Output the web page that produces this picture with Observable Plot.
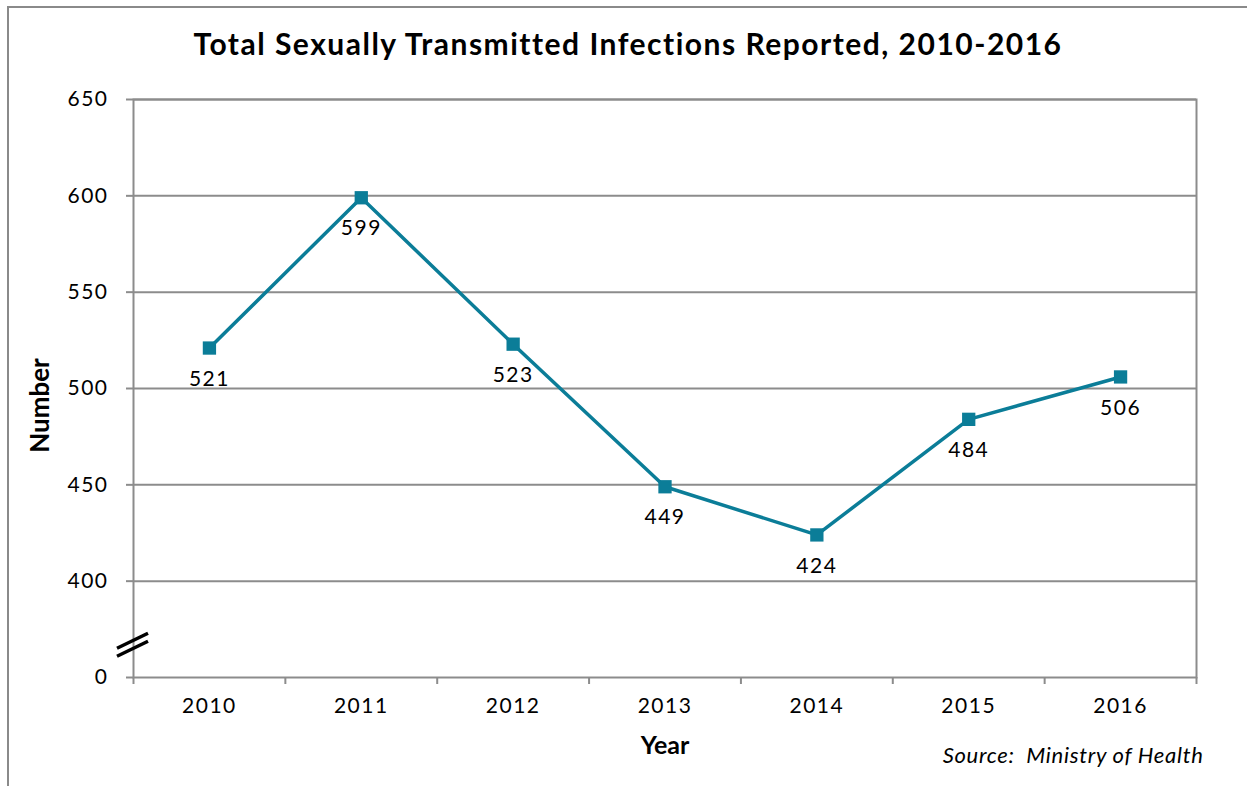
<!DOCTYPE html>
<html>
<head>
<meta charset="utf-8">
<script src="https://cdn.jsdelivr.net/npm/d3@7"></script>
<script src="https://cdn.jsdelivr.net/npm/@observablehq/plot@0.6"></script>
<style>
  html, body { margin: 0; padding: 0; background: #fff; }
  #wrap { position: relative; width: 1247px; height: 786px; overflow: hidden; }
  #border { position: absolute; left: 7px; top: 6px; right: -4px; bottom: -4px;
            border-top: 2px solid #8a8a8a; border-left: 2px solid #8a8a8a; pointer-events: none; }
  svg { font-family: Lato, "Open Sans", sans-serif; }
  .spaced text { letter-spacing: 1.5px; }
</style>
</head>
<body>
<div id="wrap"><div id="border"></div></div>
<script>
const years = [2010, 2011, 2012, 2013, 2014, 2015, 2016];
const values = [521, 599, 523, 449, 424, 484, 506];
const yTicks = [350, 400, 450, 500, 550, 600, 650]; // 350 position shown as "0" (broken axis)
const title = "Total Sexually Transmitted Infections Reported, 2010-2016";
const xTitle = "Year";
const yTitle = "Number";
const source = "Source:  Ministry of Health";

const data = years.map((y, i) => ({year: y, value: values[i]}));
const bounds = d3.range(years[0] - 0.5, years[years.length - 1] + 1, 1);
const lineColor = "#0b7d98";
const gridColor = "#8c8c8c";

const plot = Plot.plot({
  width: 1247,
  height: 786,
  marginLeft: 133,
  marginRight: 51,
  marginTop: 99,
  marginBottom: 109,
  style: {fontFamily: "Lato, 'Open Sans', sans-serif", background: "transparent"},
  x: {type: "linear", domain: [years[0] - 0.5, years[years.length - 1] + 0.5]},
  y: {domain: [350, 650]},
  marks: [
    Plot.ruleY(yTicks.filter(d => d > 350), {stroke: gridColor, strokeWidth: 2}),
    Plot.frame({stroke: gridColor, strokeWidth: 2}),
    Plot.axisY({ticks: yTicks, tickSize: 7, tickPadding: 18, tickFormat: d => d === 350 ? "0" : String(d),
      fontSize: 21, label: null, stroke: gridColor, strokeWidth: 2, color: "#000", className: "spaced"}),
    Plot.axisX({ticks: years, tickSize: 0, tickPadding: 21, tickFormat: d => String(d), fontSize: 21, label: null, color: "#000", className: "spaced"}),
    Plot.axisX({ticks: bounds, tickSize: 7, tickFormat: () => "", label: null, stroke: gridColor, strokeWidth: 2}),
    Plot.line(data, {x: "year", y: "value", stroke: lineColor, strokeWidth: 3.5}),
    Plot.dot(data, {x: "year", y: "value", symbol: "square", r: 7.5, fill: lineColor, stroke: "none"}),
    Plot.text(data, {x: "year", y: "value", text: d => String(d.value), dy: 31, fontSize: 21, fill: "#000", className: "spaced"}),
    Plot.text([title], {frameAnchor: "top", lineAnchor: "middle", textAnchor: "middle", dx: -37, dy: -54, fontSize: 30, fontWeight: "bold", fill: "#000", className: "spaced"}),
    Plot.text([xTitle], {frameAnchor: "bottom", lineAnchor: "middle", textAnchor: "middle", dy: 68, fontSize: 25, fontWeight: "bold", fill: "#000"}),
    Plot.text([yTitle], {frameAnchor: "left", lineAnchor: "middle", textAnchor: "middle", dx: -93, dy: 17, rotate: -90, fontSize: 26, fontWeight: "bold", fill: "#000"}),
    Plot.text([source], {frameAnchor: "bottom-right", lineAnchor: "middle", dx: 7, dy: 78, textAnchor: "end", fontSize: 22, fontStyle: "italic", fill: "#000"})
  ]
});

// axis break marks on the y axis between 0 and 400
const ys = plot.scale("y"), xs = plot.scale("x");
const cy = ys.apply(367);
const cx = xs.range[0];
const svg = d3.select(plot);
[-4, 4].forEach(off => {
  svg.append("line")
    .attr("x1", cx - 16).attr("y1", cy + off + 8)
    .attr("x2", cx + 15).attr("y2", cy + off - 7)
    .attr("stroke", "#000").attr("stroke-width", 3.5);
});
svg.selectAll("text").filter(function() { return this.textContent === source; }).attr("letter-spacing", "0.7px");

document.getElementById("wrap").prepend(plot);
plot.style.position = "absolute";
plot.style.left = "0";
plot.style.top = "0";
</script>
</body>
</html>
